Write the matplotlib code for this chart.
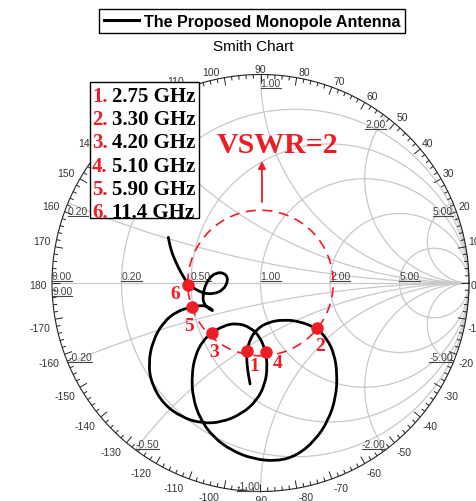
import numpy as np
import matplotlib.pyplot as plt
from matplotlib.path import Path
from matplotlib.patches import PathPatch, Rectangle, Circle
from matplotlib.collections import LineCollection

plt.rcParams['font.family'] = ['Liberation Sans', 'DejaVu Sans']

# -------------------------------
# data (reflection coefficient, Re / Im)
# -------------------------------
series_name = 'The Proposed Monopole Antenna'

curve_re = [-0.050, -0.059, -0.066, -0.066, -0.050, -0.018, 0.037, 0.109, 0.189, 0.270,
            0.320, 0.354, 0.368, 0.362, 0.325, 0.261, 0.174, 0.078, -0.035, -0.138,
            -0.226, -0.290, -0.325, -0.330, -0.314, -0.277, -0.234, -0.178, -0.114, -0.050,
            -0.002, 0.025, 0.033, 0.022, -0.018, -0.090, -0.186, -0.282, -0.378, -0.466,
            -0.522, -0.538, -0.517, -0.466, -0.402, -0.330, -0.282, -0.250, -0.223, -0.246,
            -0.271, -0.277, -0.271, -0.250, -0.213, -0.170, -0.154, -0.178, -0.226, -0.274,
            -0.314, -0.346, -0.378, -0.410, -0.431, -0.442]
curve_im = [-0.484, -0.436, -0.380, -0.328, -0.269, -0.221, -0.188, -0.176, -0.184, -0.217,
            -0.269, -0.341, -0.436, -0.548, -0.660, -0.756, -0.828, -0.855, -0.844, -0.804,
            -0.740, -0.652, -0.548, -0.445, -0.349, -0.277, -0.240, -0.205, -0.192, -0.212,
            -0.258, -0.331, -0.404, -0.484, -0.564, -0.628, -0.668, -0.673, -0.644, -0.580,
            -0.484, -0.388, -0.277, -0.188, -0.136, -0.114, -0.107, -0.114, -0.136, -0.125,
            -0.101, -0.069, -0.029, 0.019, 0.051, 0.047, 0.014, -0.034, -0.053, -0.049,
            -0.029, -0.008, 0.043, 0.107, 0.163, 0.219]

mark_names = ['1', '2', '3', '4', '5', '6']
mark_freqs = ['2.75 GHz', '3.30 GHz', '4.20 GHz', '5.10 GHz', '5.90 GHz', '11.4 GHz']
mark_re = [-0.066, 0.270, -0.234, 0.025, -0.330, -0.346]
mark_im = [-0.328, -0.217, -0.240, -0.331, -0.114, -0.008]

r_grid = [0.2, 0.5, 1.0, 2.0, 5.0]
x_grid = [0.2, 0.5, 1.0, 2.0, 5.0]
angle_labels = list(range(-170, 190, 10))
vswr_text = 'VSWR=2'
vswr_radius = 0.349   # dashed circle as drawn in the picture

RED = '#ee1c25'
GRID = '#c8c8c8'
W, H = 477, 502
PX = 0.72  # points per pixel at dpi 100

fig = plt.figure(figsize=(W / 100, H / 100), dpi=100)
ax = fig.add_axes([0, 0, 1, 1])
ax.set_xlim(-260.5 / 208.5, 216.5 / 208.5)
ax.set_ylim(-218 / 208.5, 284 / 208.5)
ax.axis('off')

# -------------------------------
# Smith grid
# -------------------------------
tt = np.linspace(0, 2 * np.pi, 721)
for r in r_grid:
    c, rad = r / (1 + r), 1 / (1 + r)
    ax.plot(c + rad * np.cos(tt), rad * np.sin(tt), color=GRID, lw=0.9, zorder=1)

rr = np.concatenate([np.linspace(0, 1, 200), np.logspace(0, 4, 400)])
for xv in x_grid:
    for s in (1, -1):
        g = (rr + 1j * s * xv - 1) / (rr + 1j * s * xv + 1)
        ax.plot(g.real, g.imag, color=GRID, lw=0.9, zorder=1)
ax.plot([-1, 1], [0, 0], color=GRID, lw=0.9, zorder=1)

# rim + angle ticks
ax.plot(np.cos(tt), np.sin(tt), color='#222222', lw=0.8, zorder=2)
segs = []
for a in range(0, 360, 2):
    t = np.radians(a)
    L = 8 / 208.5 if a % 10 == 0 else 4 / 208.5
    segs.append([(np.cos(t), np.sin(t)), ((1 - L) * np.cos(t), (1 - L) * np.sin(t))])
ax.add_collection(LineCollection(segs, colors='#222222', linewidths=0.7, zorder=2))

for a in angle_labels:
    t = np.radians(a)
    if a in (90, -90):
        ha, dx = 'center', 0
    elif abs(a) > 90:
        ha, dx = 'right', -5
    else:
        ha, dx = 'left', 2
    if a in (0, 180):
        va, dy = 'center', -2
    elif a > 0:
        va, dy = 'bottom', 1
    else:
        va, dy = 'top', -4
    ax.annotate(str(a), (np.cos(t), np.sin(t)), xytext=(dx * PX, dy * PX),
                textcoords='offset points', ha=ha, va=va, fontsize=7.5,
                color='#333333', zorder=3)

# grid value labels (underlined afterwards)
under = []
for r in r_grid:
    under.append(ax.annotate('%.2f' % r, ((r - 1) / (r + 1), 0),
                             xytext=(0, 2 * PX), textcoords='offset points', ha='left',
                             va='bottom', fontsize=7.5, color='#444444', zorder=3))
under.append(ax.annotate('0.00', (-1, 0), xytext=(0, 2 * PX),
                         textcoords='offset points', ha='left', va='bottom', fontsize=7.5,
                         color='#444444', zorder=3))
under.append(ax.annotate('9.00', (-1, 0), xytext=(0, -3 * PX),
                         textcoords='offset points', ha='left', va='top', fontsize=7.5,
                         color='#444444', zorder=3))
for xv in x_grid:
    for s in (1, -1):
        g = (1j * s * xv - 1) / (1j * s * xv + 1)
        ang = np.degrees(np.angle(g))
        if s > 0:
            va, dy = 'top', -3
            ha = 'left' if ang >= 89 else 'right'
            txt = '%.2f' % xv
        else:
            va, dy = 'bottom', 1
            ha = 'left' if ang < -91 else 'right'
            txt = '-%.2f' % xv
        under.append(ax.annotate(txt, (g.real, g.imag), xytext=(0, dy * PX),
                                 textcoords='offset points', ha=ha, va=va,
                                 fontsize=7.5, color='#444444', zorder=3))

# -------------------------------
# VSWR circle + arrow + text
# -------------------------------
ax.add_patch(Circle((0, 0), vswr_radius, fill=False, ec=RED, lw=1.2,
                    ls=(0, (6, 4)), zorder=3))
ax.annotate('', xy=(0.007, 0.585), xytext=(0.007, 0.388),
            arrowprops=dict(arrowstyle='-|>', color=RED, lw=1.3,
                            mutation_scale=11, shrinkA=0, shrinkB=0), zorder=3)
ax.text(217 / W, 1 - 153 / H, vswr_text, transform=fig.transFigure,
        fontfamily='Liberation Serif', fontweight='bold', fontsize=21.5,
        color=RED, ha='left', va='baseline', zorder=6)

# -------------------------------
# impedance trace (smoothed drawing through the read points)
# -------------------------------
pts = np.column_stack([curve_re, curve_im])
verts = [pts[0]]
codes = [Path.MOVETO]
for i in range(1, len(pts) - 1):
    verts += [pts[i], (pts[i] + pts[i + 1]) / 2]
    codes += [Path.CURVE3, Path.CURVE3]
verts.append(pts[-1])
codes.append(Path.LINETO)
ax.add_patch(PathPatch(Path(verts, codes), fill=False, ec='black', lw=2.0,
                       capstyle='round', joinstyle='round', zorder=4))
line, = ax.plot([], [], color='black', lw=2.2, label=series_name)

ax.plot(mark_re, mark_im, 'o', ms=8, color=RED, zorder=5)
offsets = [(8, -14), (3, -17), (2, -18), (12, -10), (-3, -19), (-13, -9)]
for name, x, y, (dx, dy) in zip(mark_names, mark_re, mark_im, offsets):
    ax.annotate(name, (x, y), xytext=(dx * PX, dy * PX), textcoords='offset points',
                ha='center', va='center', fontfamily='Liberation Serif',
                fontweight='bold', fontsize=14, color=RED, zorder=6)

# -------------------------------
# legends and title
# -------------------------------
leg = ax.legend(handles=[line], loc='upper left', bbox_to_anchor=(99 / W, 1 - 10 / H),
                bbox_transform=fig.transFigure, fancybox=False, edgecolor='black',
                framealpha=1, prop={'weight': 'bold', 'size': 11.6}, handlelength=2.2,
                handletextpad=0.3, borderpad=0.28, borderaxespad=0)
leg.get_frame().set_linewidth(1.0)

fig.text(253 / W, 1 - 47 / H, 'Smith Chart', ha='center', va='center', fontsize=11)

ax.add_patch(Rectangle((90 / W, 1 - 219 / H), 109 / W, 136 / H, transform=fig.transFigure,
                       fc='white', ec='black', lw=1.0, clip_on=False, zorder=10))
for i, (name, fq) in enumerate(zip(mark_names, mark_freqs)):
    yb = 1 - (102 + 23.2 * i) / H
    ax.text(92 / W, yb, name + '.', transform=fig.transFigure, color=RED,
            fontfamily='Liberation Serif', fontweight='bold', fontsize=15,
            ha='left', va='baseline', zorder=11)
    ax.text(112 / W, yb, fq, transform=fig.transFigure, color='black',
            fontfamily='Liberation Serif', fontweight='bold', fontsize=15,
            ha='left', va='baseline', zorder=11)

# underline the grid value labels
fig.canvas.draw()
inv = fig.transFigure.inverted()
for t in under:
    bb = t.get_window_extent()
    (x0, y0), (x1, _) = inv.transform([(bb.x0, bb.y0), (bb.x1, bb.y1)])
    ax.plot([x0, x1], [y0, y0], transform=fig.transFigure, color='#444444',
            lw=0.8, clip_on=False, zorder=3)

fig.savefig('out.png', dpi=100)
